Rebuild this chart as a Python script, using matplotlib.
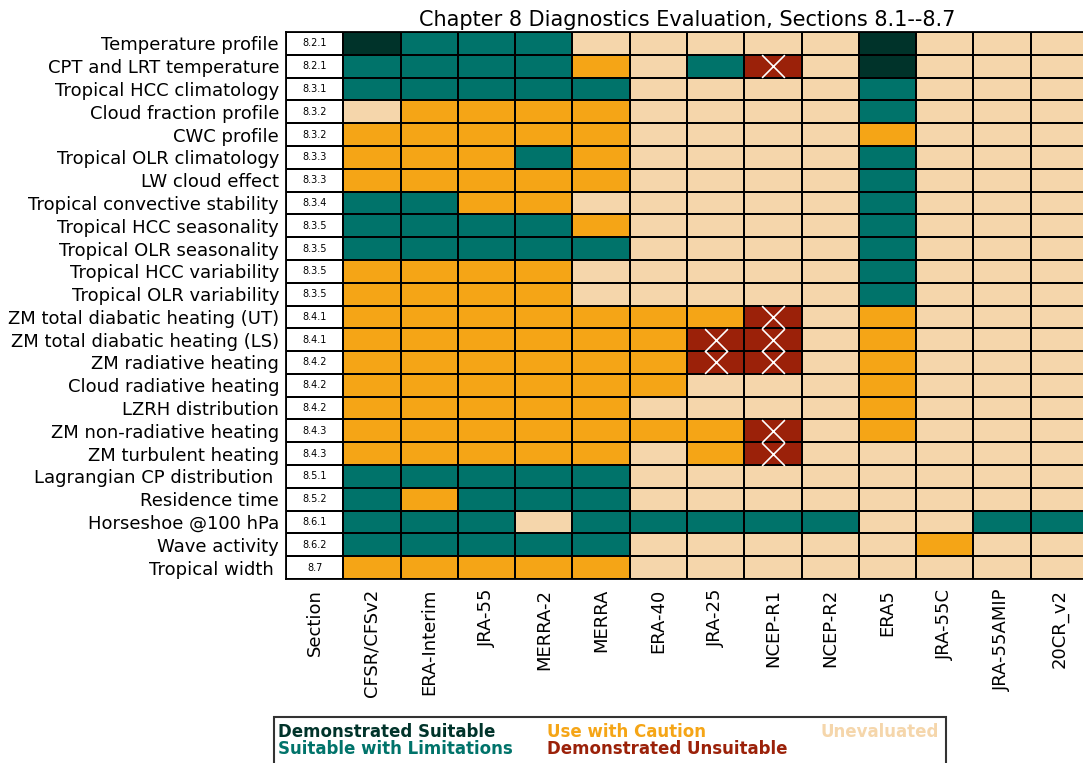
import matplotlib
matplotlib.use("Agg")
import matplotlib.pyplot as plt
import numpy as np
from matplotlib.colors import ListedColormap, BoundaryNorm
from matplotlib.patches import Rectangle

# ---- data ----
diagnostics = [
    "Temperature profile", "CPT and LRT temperature", "Tropical HCC climatology",
    "Cloud fraction profile", "CWC profile", "Tropical OLR climatology",
    "LW cloud effect", "Tropical convective stability", "Tropical HCC seasonality",
    "Tropical OLR seasonality", "Tropical HCC variability", "Tropical OLR variability",
    "ZM total diabatic heating (UT)", "ZM total diabatic heating (LS)",
    "ZM radiative heating", "Cloud radiative heating", "LZRH distribution",
    "ZM non-radiative heating", "ZM turbulent heating", "Lagrangian CP distribution ",
    "Residence time", "Horseshoe @100 hPa", "Wave activity", "Tropical width ",
]
sections = [
    "8.2.1", "8.2.1", "8.3.1", "8.3.2", "8.3.2", "8.3.3", "8.3.3", "8.3.4",
    "8.3.5", "8.3.5", "8.3.5", "8.3.5", "8.4.1", "8.4.1", "8.4.2", "8.4.2",
    "8.4.2", "8.4.3", "8.4.3", "8.5.1", "8.5.2", "8.6.1", "8.6.2", "8.7",
]
reanalyses = ["CFSR/CFSv2", "ERA-Interim", "JRA-55", "MERRA-2", "MERRA", "ERA-40",
              "JRA-25", "NCEP-R1", "NCEP-R2", "ERA5", "JRA-55C", "JRA-55AMIP", "20CR_v2"]

# 0 Demonstrated Suitable, 1 Suitable with Limitations, 2 Use with Caution,
# 3 Demonstrated Unsuitable, 4 Unevaluated
ratings = [
    [0, 1, 1, 1, 4, 4, 4, 4, 4, 0, 4, 4, 4],
    [1, 1, 1, 1, 2, 4, 1, 3, 4, 0, 4, 4, 4],
    [1, 1, 1, 1, 1, 4, 4, 4, 4, 1, 4, 4, 4],
    [4, 2, 2, 2, 2, 4, 4, 4, 4, 1, 4, 4, 4],
    [2, 2, 2, 2, 2, 4, 4, 4, 4, 2, 4, 4, 4],
    [2, 2, 2, 1, 2, 4, 4, 4, 4, 1, 4, 4, 4],
    [2, 2, 2, 2, 2, 4, 4, 4, 4, 1, 4, 4, 4],
    [1, 1, 2, 2, 4, 4, 4, 4, 4, 1, 4, 4, 4],
    [1, 1, 1, 1, 2, 4, 4, 4, 4, 1, 4, 4, 4],
    [1, 1, 1, 1, 1, 4, 4, 4, 4, 1, 4, 4, 4],
    [2, 2, 2, 2, 4, 4, 4, 4, 4, 1, 4, 4, 4],
    [2, 2, 2, 2, 4, 4, 4, 4, 4, 1, 4, 4, 4],
    [2, 2, 2, 2, 2, 2, 2, 3, 4, 2, 4, 4, 4],
    [2, 2, 2, 2, 2, 2, 3, 3, 4, 2, 4, 4, 4],
    [2, 2, 2, 2, 2, 2, 3, 3, 4, 2, 4, 4, 4],
    [2, 2, 2, 2, 2, 2, 4, 4, 4, 2, 4, 4, 4],
    [2, 2, 2, 2, 2, 4, 4, 4, 4, 2, 4, 4, 4],
    [2, 2, 2, 2, 2, 2, 2, 3, 4, 2, 4, 4, 4],
    [2, 2, 2, 2, 2, 4, 2, 3, 4, 4, 4, 4, 4],
    [1, 1, 1, 1, 1, 4, 4, 4, 4, 4, 4, 4, 4],
    [1, 2, 1, 1, 1, 4, 4, 4, 4, 4, 4, 4, 4],
    [1, 1, 1, 4, 1, 1, 1, 1, 1, 4, 4, 1, 1],
    [1, 1, 1, 1, 1, 4, 4, 4, 4, 4, 2, 4, 4],
    [2, 2, 2, 2, 2, 4, 4, 4, 4, 4, 4, 4, 4],
]
category_names = ["Demonstrated Suitable", "Suitable with Limitations", "Use with Caution",
                  "Demonstrated Unsuitable", "Unevaluated"]
category_colors = ["#00332a", "#00736a", "#f5a516", "#9b2109", "#f5d6ab"]

# ---- figure ----
W, H = 1083, 763
fig = plt.figure(figsize=(W / 100, H / 100), dpi=100)
ax = fig.add_axes([286 / W, 1 - 579 / H, (1088 - 286) / W, (579 - 32) / H])

nrow, ncol = len(diagnostics), len(reanalyses)
grid = np.full((nrow, ncol + 1), 5)  # 5 = section column (white)
grid[:, 1:] = np.array(ratings)
cmap = ListedColormap(category_colors + ["#ffffff"])
norm = BoundaryNorm(np.arange(-0.5, 6.5, 1), cmap.N)
ax.pcolormesh(np.arange(ncol + 2), np.arange(nrow + 1), grid, cmap=cmap, norm=norm,
              edgecolors="black", linewidth=1.3)
ax.set_xlim(0, ncol + 1)
ax.set_ylim(nrow, 0)

# unsuitable crosses
rr, cc = np.where(np.array(ratings) == 3)
ax.scatter(cc + 1.5, rr + 0.5, marker="x", s=16.4 ** 2, color="white", linewidths=1.2, zorder=3)

# section labels
for i, s in enumerate(sections):
    ax.text(0.5, i + 0.5, s, ha="center", va="center", fontsize=7)

ax.set_yticks(np.arange(nrow) + 0.5)
ax.set_yticklabels(diagnostics, fontsize=13)
ax.set_xticks(np.arange(ncol + 1) + 0.5)
ax.set_xticklabels(["Section"] + reanalyses, fontsize=13, rotation=90)
ax.tick_params(length=0)
ax.tick_params(axis="y", pad=5)
ax.tick_params(axis="x", pad=7)
for sp in ax.spines.values():
    sp.set_linewidth(1.3)

ax.set_title("Chapter 8 Diagnostics Evaluation, Sections 8.1--8.7", fontsize=15, pad=4)

# legend-style box with coloured bold text
fig.patches.append(Rectangle((274 / W, -0.02), (946 - 274) / W, (1 - 717 / H) + 0.02,
                             transform=fig.transFigure, facecolor="white",
                             edgecolor="#333333", linewidth=1.5))
leg_pos = [(278, 732), (278, 749), (547, 732), (547, 749), (821, 732)]
for (px, py), name, col in zip(leg_pos, category_names, category_colors):
    fig.text(px / W, 1 - py / H, name, color=col, fontsize=12, fontweight="bold",
             ha="left", va="center")

fig.savefig("out.png", dpi=100)
